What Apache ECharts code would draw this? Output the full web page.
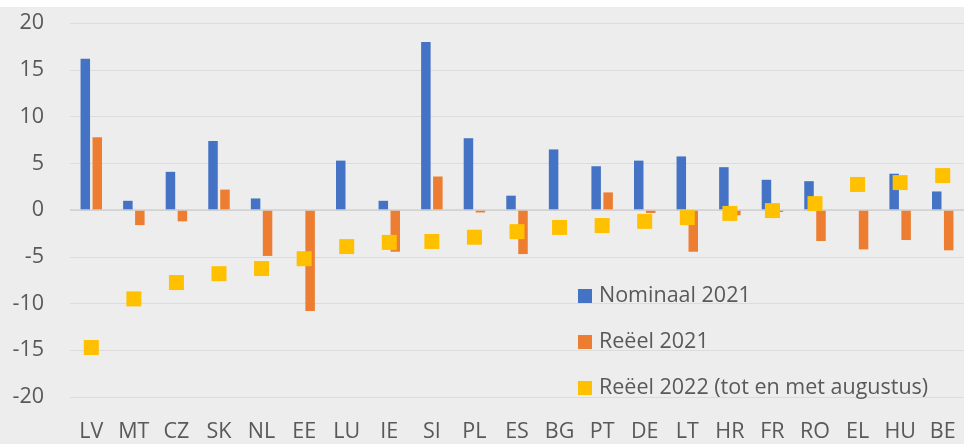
<!DOCTYPE html>
<html>
<head>
<meta charset="utf-8">
<script src="https://cdn.jsdelivr.net/npm/echarts@6/dist/echarts.min.js"></script>
<style>
  html, body { margin: 0; padding: 0; background: #ffffff; }
  #chartMain { width: 964px; height: 437px; margin-top: 7px; }
</style>
</head>
<body>
<div id="chartMain"></div>
<script>
const countries = ['LV', 'MT', 'CZ', 'SK', 'NL', 'EE', 'LU', 'IE', 'SI', 'PL', 'ES',
  'BG', 'PT', 'DE', 'LT', 'HR', 'FR', 'RO', 'EL', 'HU', 'BE'];
const nominal2021 = [16.2, 1.0, 4.1, 7.4, 1.25, 0, 5.3, 1.0, 18.0, 7.7, 1.55,
  6.5, 4.7, 5.3, 5.75, 4.6, 3.25, 3.1, 0, 3.9, 2.0];
const real2021 = [7.8, -1.6, -1.2, 2.2, -4.9, -10.8, 0, -4.45, 3.6, -0.25, -4.7,
  0, 1.9, -0.3, -4.45, -0.55, -0.2, -3.3, -4.2, -3.2, -4.3];
const real2022 = [-14.7, -9.5, -7.75, -6.8, -6.25, -5.2, -3.9, -3.45, -3.35, -2.9, -2.3,
  -1.85, -1.65, -1.2, -0.8, -0.35, -0.05, 0.7, 2.75, 2.95, 3.7];

const font = '"Open Sans", sans-serif';

function initChart() {
  const chart = echarts.init(document.getElementById('chartMain'));
  const option = {
    backgroundColor: '#ededed',
    animation: false,
    textStyle: { fontFamily: font },
    grid: { left: 70, right: 0, top: 16.3, bottom: 47 },
    legend: {
      orient: 'vertical',
      left: 573,
      top: 272,
      itemWidth: 14,
      itemHeight: 14,
      itemGap: 22,
      icon: 'rect',
      textStyle: { fontFamily: font, fontSize: 21.5, color: '#595959', lineHeight: 24, padding: [0, 0, 0, 2] },
      data: ['Nominaal 2021', 'Reëel 2021', 'Reëel 2022 (tot en met augustus)']
    },
    xAxis: {
      type: 'category',
      data: countries,
      axisLine: { show: false, onZero: false },
      axisTick: { show: false },
      axisLabel: { fontFamily: font, fontSize: 21.5, color: '#595959', margin: 24 }
    },
    yAxis: {
      type: 'value',
      min: -20,
      max: 20,
      interval: 5,
      axisLine: { show: false },
      axisTick: { show: false },
      axisLabel: { fontFamily: font, fontSize: 21.5, color: '#595959', margin: 26 },
      splitLine: { lineStyle: { color: '#dcdcdc', width: 1 } }
    },
    series: [
      {
        name: 'Nominaal 2021',
        type: 'bar',
        data: nominal2021,
        barWidth: 9.5,
        barGap: '26%',
        itemStyle: { color: '#4472c4' }
      },
      {
        name: 'Reëel 2021',
        type: 'bar',
        data: real2021,
        barWidth: 9.5,
        itemStyle: { color: '#ed7d31' },
        markLine: {
          silent: true,
          symbol: 'none',
          label: { show: false },
          lineStyle: { color: '#d0d0d0', type: 'solid', width: 1.5 },
          data: [{ yAxis: 0 }]
        }
      },
      {
        name: 'Reëel 2022 (tot en met augustus)',
        type: 'scatter',
        data: real2022,
        symbol: 'rect',
        symbolSize: 15,
        itemStyle: { color: '#ffc000', opacity: 1 },
        z: 5
      }
    ]
  };
  chart.setOption(option);
}

initChart();
</script>
</body>
</html>
